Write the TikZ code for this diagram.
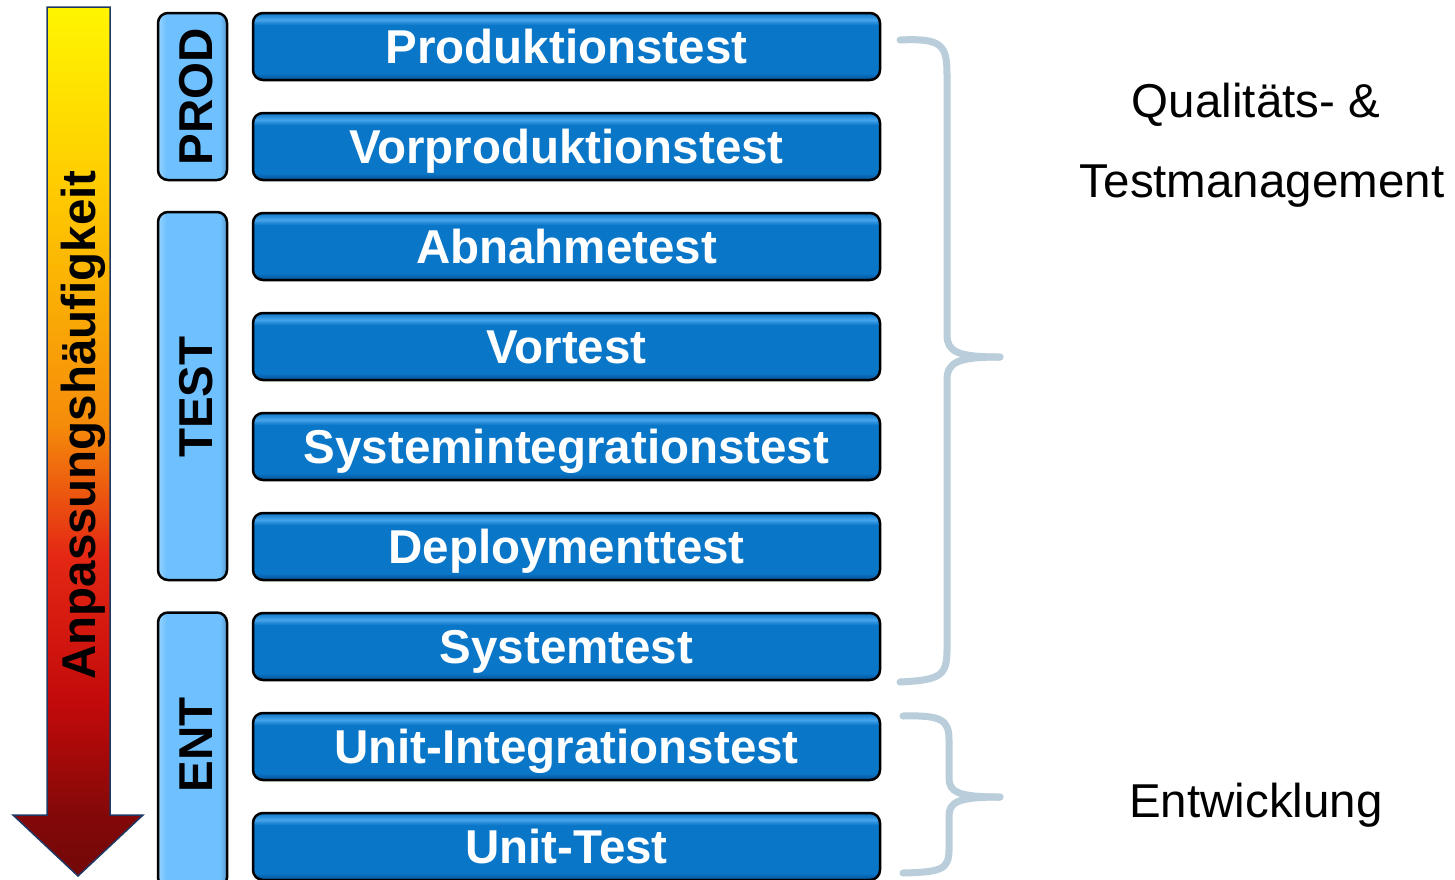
\documentclass[tikz,border=0pt]{standalone}
\usepackage{fontspec}
\setmainfont{Liberation Sans}
\definecolor{barblue}{RGB}{10,118,200}
\definecolor{bardark}{RGB}{6,78,145}
\definecolor{barlight}{RGB}{70,165,235}
\definecolor{grpblue}{RGB}{110,192,255}
\definecolor{grplight}{RGB}{150,212,255}
\definecolor{bracecol}{RGB}{185,205,218}
\definecolor{navy}{RGB}{31,56,100}
\definecolor{ayellow}{RGB}{255,245,0}
\definecolor{aamber}{RGB}{255,205,0}
\definecolor{aorange}{RGB}{245,140,10}
\definecolor{ared}{RGB}{228,40,20}
\definecolor{ared2}{RGB}{195,10,10}
\definecolor{adark}{RGB}{115,8,8}
\pgfdeclareverticalshading{arrowshade}{100bp}{color(0bp)=(adark); color(25bp)=(adark); color(28.5bp)=(adark!80!ared2); color(35bp)=(ared2); color(43.5bp)=(ared); color(51bp)=(aorange); color(58bp)=(aorange!50!aamber); color(65bp)=(aamber); color(75bp)=(ayellow); color(100bp)=(ayellow)}
\pgfdeclareverticalshading{barshade}{100bp}{color(0bp)=(bardark); color(25bp)=(bardark); color(30bp)=(barblue); color(66bp)=(barblue); color(70bp)=(barlight); color(75bp)=(barblue); color(100bp)=(barblue)}
\pgfdeclarehorizontalshading{grpshade}{100bp}{color(0bp)=(grplight); color(25bp)=(grplight); color(31bp)=(grpblue); color(70bp)=(grpblue); color(75bp)=(grpblue!80!black); color(100bp)=(grpblue!80!black)}
\begin{document}
\begin{tikzpicture}[x=1pt,y=-1pt,
  bar/.style={draw=black, line width=2.5pt, rounded corners=10pt, shading=barshade,
    minimum width=627pt, minimum height=67pt, inner sep=0pt,
    text height=34pt, text depth=0pt, text=white,
    font=\fontsize{47.5}{50}\selectfont\bfseries},
  grp/.style={draw=black, line width=2.5pt, rounded corners=10pt, shading=grpshade,
    minimum width=69pt, inner sep=0pt},
  grptext/.style={rotate=90, anchor=base, text=black,
    font=\fontsize{47.5}{50}\selectfont\bfseries},
  brace/.style={draw=bracecol, line width=7pt, line cap=round, line join=round},
  side/.style={anchor=base, text=black, font=\fontsize{47.5}{50}\selectfont}
]
\useasboundingbox (0,0) rectangle (1455,879);
\clip (0,0) rectangle (1455,879);
% arrow
\shade[shading=arrowshade, draw=navy, line width=1.5pt]
  (47,7) -- (110,7) -- (110,815) -- (143,815) -- (78,876) -- (13,815) -- (47,815) -- cycle;
\node[grptext] (arrowtext) at (95,425) {Anpassungshäufigkeit};
% group boxes
\node[grp, minimum height=167pt] (prod) at (192.5,96.5) {};
\node[grp, minimum height=368pt] (test) at (192.5,396) {};
\node[grp, minimum height=275pt] (ent) at (192.5,750) {};
\node[grptext] (prodt) at (212,97) {PROD};
\node[grptext] (testt) at (212,397) {TEST};
\node[grptext] (entt) at (212,745) {ENT};
% bars
\node[bar] (b1) at (566.5,46.5) {Produktionstest};
\node[bar] (b2) at (566.5,146.5) {Vorproduktionstest};
\node[bar] (b3) at (566.5,246.5) {Abnahmetest};
\node[bar] (b4) at (566.5,346.5) {Vortest};
\node[bar] (b5) at (566.5,446.5) {Systemintegrationstest};
\node[bar] (b6) at (566.5,546.5) {Deploymenttest};
\node[bar] (b7) at (566.5,646.5) {Systemtest};
\node[bar] (b8) at (566.5,746.5) {Unit-Integrationstest};
\node[bar] (b9) at (566.5,846.5) {Unit-Test};
% braces
\coordinate (q1) at (900,40);
\coordinate (qt) at (1000,357);
\coordinate (q2) at (900,682);
\draw[brace] (q1) .. controls (942,38) and (947,45) .. (947,75) -- (947,335)
  .. controls (947,352) and (958,357) .. (qt);
\draw[brace] (qt) .. controls (958,357) and (947,362) .. (947,380) -- (947,650)
  .. controls (947,676) and (940,680) .. (q2);
\coordinate (e1) at (903,716);
\coordinate (et) at (1000,797);
\coordinate (e2) at (903,873);
\draw[brace] (e1) .. controls (942,715) and (949,720) .. (949,740) -- (949,778)
  .. controls (949,792) and (958,797) .. (et);
\draw[brace] (et) .. controls (958,797) and (949,802) .. (949,816) -- (949,850)
  .. controls (949,870) and (940,872) .. (e2);
% side texts
\node[side] (qm1) at (1256,117) {Qualitäts- \&};
\node[side] (qm2) at (1262,197) {Testmanagement};
\node[side] (entw) at (1256,817) {Entwicklung};
\end{tikzpicture}
\end{document}
